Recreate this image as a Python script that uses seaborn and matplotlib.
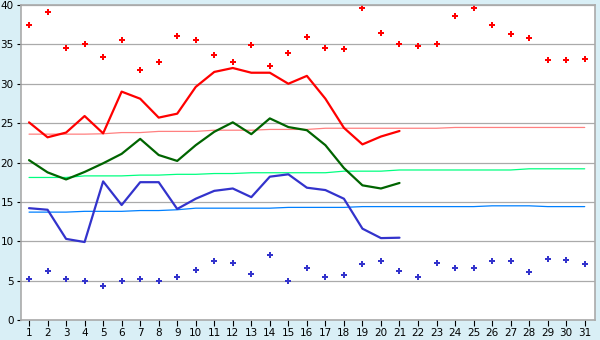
##############################################################################
#### Monthly temperature chart: daily values, normals and records
##############################################################################
import numpy as np
import pandas as pd
import seaborn as sns
import matplotlib.pyplot as plt

###########
# Data
days = list(range(1, 32))
days_obs = list(range(1, 22))

record_max = [37.4, 39.1, 34.6, 35.0, 33.4, 35.6, 31.8, 32.7, 36.0, 35.6,
              33.6, 32.8, 34.9, 32.3, 33.9, 35.9, 34.5, 34.4, 39.6, 36.4,
              35.1, 34.8, 35.0, 38.6, 39.6, 37.4, 36.3, 35.8, 33.0, 33.0, 33.2]
record_min = [5.2, 6.2, 5.2, 5.0, 4.3, 5.0, 5.2, 4.9, 5.4, 6.3,
              7.5, 7.2, 5.9, 8.2, 5.0, 6.6, 5.4, 5.7, 7.1, 7.5,
              6.2, 5.5, 7.2, 6.6, 6.6, 7.5, 7.5, 6.05, 7.8, 7.6, 7.1]

t_max = [25.1, 23.2, 23.8, 25.9, 23.7, 29.0, 28.1, 25.7, 26.2, 29.6,
         31.5, 32.0, 31.4, 31.4, 30.0, 31.0, 28.1, 24.4, 22.3, 23.3, 24.0]
t_mean = [20.3, 18.75, 17.85, 18.8, 19.9, 21.1, 23.0, 20.95, 20.2, 22.2,
          23.9, 25.1, 23.6, 25.6, 24.5, 24.1, 22.2, 19.3, 17.1, 16.7, 17.4]
t_min = [14.2, 14.0, 10.3, 9.9, 17.6, 14.6, 17.5, 17.5, 14.1, 15.4,
         16.4, 16.7, 15.6, 18.2, 18.5, 16.8, 16.5, 15.4, 11.6, 10.4, 10.45]

norm_max = [23.6, 23.6, 23.6, 23.6, 23.65, 23.8, 23.8, 23.95, 23.95, 23.95,
            24.1, 24.1, 24.1, 24.2, 24.2, 24.2, 24.35, 24.35, 24.35, 24.35,
            24.35, 24.35, 24.35, 24.45, 24.45, 24.45, 24.45, 24.45, 24.45, 24.45, 24.45]
norm_mean = [18.1, 18.1, 18.1, 18.3, 18.3, 18.3, 18.4, 18.4, 18.5, 18.5,
             18.6, 18.6, 18.7, 18.7, 18.7, 18.7, 18.7, 18.9, 18.9, 18.9,
             19.05, 19.05, 19.05, 19.05, 19.05, 19.05, 19.05, 19.2, 19.2, 19.2, 19.2]
norm_min = [13.7, 13.7, 13.7, 13.8, 13.8, 13.8, 13.9, 13.9, 14.0, 14.2,
            14.2, 14.2, 14.2, 14.2, 14.3, 14.3, 14.3, 14.3, 14.4, 14.4,
            14.4, 14.4, 14.4, 14.4, 14.4, 14.5, 14.5, 14.5, 14.4, 14.4, 14.4]

###########
# Style
sns.set_style("white")
plt.rcParams['font.family'] = ['DejaVu Sans']

fig = plt.figure(figsize=(6, 3.4), dpi=100, facecolor='#d9eff6')
ax = fig.add_axes([0.0345, 0.0588, 0.957, 0.9265])
ax.set_facecolor('white')

# Normals (thin)
sns.lineplot(x=days, y=norm_max, color='#ff8080', linewidth=0.9, ax=ax)
sns.lineplot(x=days, y=norm_mean, color='#00ff80', linewidth=0.9, ax=ax)
sns.lineplot(x=days, y=norm_min, color='#0080ff', linewidth=0.9, ax=ax)

# Observed daily values (thick)
sns.lineplot(x=days_obs, y=t_max, color='#ff0000', linewidth=1.6, ax=ax)
sns.lineplot(x=days_obs, y=t_mean, color='#006400', linewidth=1.6, ax=ax)
sns.lineplot(x=days_obs, y=t_min, color='#3333cc', linewidth=1.6, ax=ax)

# Records (markers)
sns.scatterplot(x=days, y=record_max, color='#ff0000', marker='P', s=18,
                linewidth=0, ax=ax)
sns.scatterplot(x=days, y=record_min, color='#3333cc', marker='P', s=18,
                linewidth=0, ax=ax)

# Axes
ax.set_xlim(0.55, 31.55)
ax.set_ylim(0, 40)
ax.set_xticks(days)
ax.set_yticks(np.arange(0, 41, 5))
ax.yaxis.grid(True, color='#aaaaaa', linewidth=0.9)
ax.set_axisbelow(True)
for side in ['left', 'bottom', 'top', 'right']:
    ax.spines[side].set_color('#aaaaaa')
    ax.spines[side].set_linewidth(1.2)
ax.tick_params(axis='both', which='major', labelsize=7.5, colors='black',
               length=4, width=0.8, direction='out', pad=2)
ax.tick_params(axis='x', bottom=True)
ax.tick_params(axis='y', left=True, length=3)
ax.set_xlabel('')
ax.set_ylabel('')

fig.savefig('out.png', dpi=100, facecolor=fig.get_facecolor())
